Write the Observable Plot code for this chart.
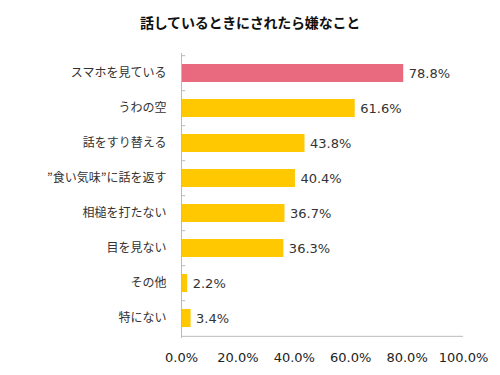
<!DOCTYPE html>
<html>
<head>
<meta charset="utf-8">
<script src="https://cdn.jsdelivr.net/npm/d3@7"></script>
<script src="https://cdn.jsdelivr.net/npm/@observablehq/plot@0.6"></script>
<style>
  body { margin: 0; background: #fff; }
  #title { height: 40px; box-sizing: border-box; padding-top: 12px; line-height: 20px; text-align: center;
    font: bold 14px "Noto Sans CJK JP", sans-serif; color: #111; letter-spacing: -0.2px; }
</style>
</head>
<body>
<div id="title">話しているときにされたら嫌なこと</div>
<div id="chart"></div>
<script>
const categories = ["スマホを見ている", "うわの空", "話をすり替える", "”食い気味”に話を返す", "相槌を打たない", "目を見ない", "その他", "特にない"];
const values = [78.8, 61.6, 43.8, 40.4, 36.7, 36.3, 2.2, 3.4];
const highlight = [true, false, false, false, false, false, false, false];
const xTicks = [0, 20, 40, 60, 80, 100];

const data = categories.map((c, i) => ({category: c, value: values[i], hi: highlight[i]}));

const height = 335, mt = 13, mb = 37;
const step = (height - mt - mb) / categories.length;

const chart = Plot.plot({
  width: 500,
  height,
  marginTop: mt,
  marginBottom: mb,
  marginLeft: 181,
  marginRight: 37,
  style: {background: "#fff"},
  x: {domain: [0, 100], ticks: xTicks, tickFormat: d => d.toFixed(1) + "%"},
  y: {domain: categories, padding: 0.49, paddingOuter: 0.245},
  marks: [
    Plot.barX(data, {x: "value", y: "category", fill: d => d.hi ? "#E96A7E" : "#FFC800"}),
    Plot.text(data, {x: "value", y: "category", text: d => d.value.toFixed(1) + "%", textAnchor: "start", dx: 5,
      fontFamily: "DejaVu Sans", fontSize: 13, fill: "#333"}),
    Plot.ruleY(categories, {y: d => d, x1: 0, x2: 1.5, dy: -step / 2, stroke: "#bbb"}),
    Plot.ruleX([0], {stroke: "#bbb"}),
    Plot.ruleY([categories[categories.length - 1]], {x1: 0, x2: 100, dy: step / 2, stroke: "#bbb"}),
    Plot.axisX({ticks: xTicks, tickFormat: d => d.toFixed(1) + "%", tickSize: 0, tickPadding: 14,
      fontFamily: "DejaVu Sans", fontSize: 13, color: "#222", label: null}),
    Plot.axisY({tickSize: 0, tickPadding: 15, fontFamily: "Noto Sans CJK JP", fontSize: 12, color: "#333", label: null})
  ]
});
document.getElementById("chart").appendChild(chart);
</script>
</body>
</html>
